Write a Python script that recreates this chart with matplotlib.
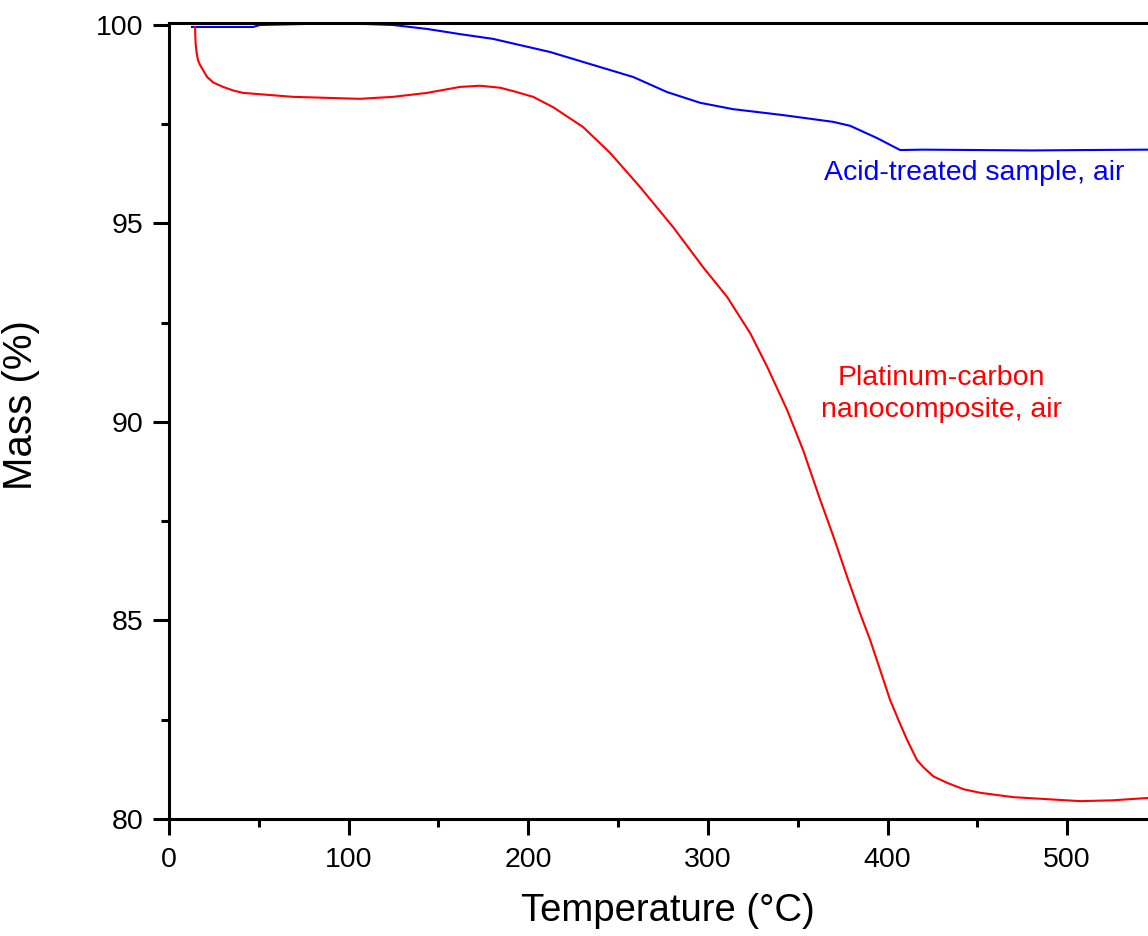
import matplotlib
matplotlib.use("Agg")
import matplotlib.pyplot as plt
from matplotlib.ticker import MultipleLocator

plt.rcParams['font.family'] = ['Liberation Sans', 'DejaVu Sans']

# TGA curves (temperature in degC, mass in %)
t_acid = [12.8, 46.8, 50.7, 80, 106.3, 124.7, 143.7, 162, 180.4, 190, 212.1, 240,
          258.4, 277.3, 295.7, 314, 341.9, 369.7, 379.2, 394.2, 407, 420, 450, 480,
          510, 545]
m_acid = [99.95, 99.95, 100.0, 100.03, 100.03, 100.0, 99.9, 99.77, 99.65, 99.55, 99.32, 98.94,
          98.69, 98.31, 98.04, 97.88, 97.73, 97.56, 97.46, 97.15, 96.85, 96.86, 96.85, 96.84,
          96.85, 96.86]

t_pt = [14.5, 14.8, 15.4, 16.1, 17.3, 21.2, 24.7, 30.1, 35.8, 41.2, 69.0, 106.3,
        124.7, 143.7, 162, 173, 184.3, 192, 202.7, 213.8, 230.5, 245.5, 262.2, 280.6,
        297.3, 310.7, 323.5, 333, 344.1, 353, 362.5, 369.9, 377.5, 384.7, 390.3, 395.9,
        401.4, 406.1, 410.9, 416.3, 419.8, 425.6, 433.2, 442.3, 451.6, 470.1, 488.7, 507.2,
        525, 545]
m_pt = [99.95, 99.54, 99.29, 99.12, 98.99, 98.69, 98.55, 98.44, 98.35, 98.29, 98.19, 98.14,
        98.19, 98.29, 98.44, 98.47, 98.42, 98.33, 98.19, 97.93, 97.43, 96.78, 95.92, 94.91,
        93.9, 93.15, 92.24, 91.39, 90.3, 89.29, 88.04, 87.11, 86.1, 85.18, 84.51, 83.75,
        83.0, 82.49, 81.99, 81.49, 81.31, 81.07, 80.91, 80.75, 80.66, 80.55, 80.5, 80.45,
        80.47, 80.53]

fig = plt.figure(figsize=(11.48, 9.36), dpi=100)
ax = fig.add_axes([169/1148, 117/936, 997/1148, 796/936])

ax.plot(t_acid, m_acid, color='#0000ff', lw=1.5)
ax.plot(t_pt, m_pt, color='#ff0000', lw=1.5)

ax.text(448, 96.27, 'Acid-treated sample, air', color='#0000ff', fontsize=20.5,
        ha='center', va='center')
ax.text(430, 90.71, 'Platinum-carbon\nnanocomposite, air', color='#ff0000', fontsize=20.5,
        ha='center', va='center', linespacing=1.3)

ax.set_xlim(0, 555)
ax.set_ylim(80, 100.05)
ax.xaxis.set_major_locator(MultipleLocator(100))
ax.xaxis.set_minor_locator(MultipleLocator(50))
ax.yaxis.set_major_locator(MultipleLocator(5))
ax.yaxis.set_minor_locator(MultipleLocator(2.5))

for s in ax.spines.values():
    s.set_linewidth(2.2)
ax.spines['right'].set_visible(False)
ax.tick_params(which='both', direction='out', width=2.2, top=False, right=False,
               labelsize=20.5)
ax.tick_params(axis='x', pad=9)
ax.tick_params(axis='y', pad=7)
ax.tick_params(which='major', length=11.5)
ax.tick_params(which='minor', length=6)

ax.set_xlabel('Temperature (°C)', fontsize=27.5, labelpad=14)
ax.set_ylabel('Mass (%)', fontsize=29)
ax.yaxis.set_label_coords(-0.129, 0.52)

fig.savefig('out.png', dpi=100)
